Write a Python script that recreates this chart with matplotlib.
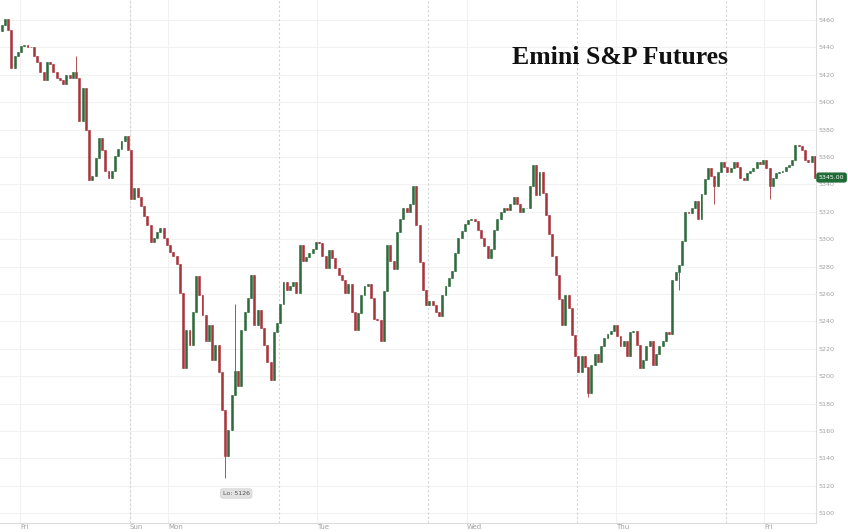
import numpy as np
import matplotlib.pyplot as plt

# 30-minute closes, one list per session
fri_closes = [5456, 5461, 5453, 5425, 5434, 5437, 5441, 5442, 5440, 5440,
              5434, 5429, 5422, 5416, 5429, 5428, 5422, 5418, 5416, 5413,
              5420, 5418, 5422, 5418, 5386, 5410, 5380, 5343, 5346, 5359,
              5374, 5365, 5350, 5345, 5350, 5361, 5366, 5372, 5375, 5365]
mon_closes = [5329, 5337, 5331, 5324, 5317, 5310, 5298, 5301, 5305, 5308,
              5301, 5296, 5291, 5288, 5282, 5261, 5206, 5234, 5223, 5247,
              5273, 5259, 5245, 5226, 5237, 5212, 5223, 5203, 5175, 5142,
              5161, 5186, 5204, 5193, 5234, 5247, 5257, 5274, 5237, 5248,
              5235, 5223, 5210, 5197, 5232, 5239]
tue_closes = [5253, 5269, 5263, 5266, 5269, 5261, 5296, 5284, 5287, 5290,
              5293, 5298, 5297, 5288, 5279, 5292, 5286, 5279, 5274, 5270,
              5261, 5267, 5247, 5234, 5246, 5259, 5266, 5267, 5257, 5242,
              5241, 5226, 5262, 5296, 5284, 5278, 5305, 5315, 5323, 5320,
              5326, 5339, 5310, 5283, 5263, 5252]
wed_closes = [5255, 5252, 5247, 5244, 5259, 5266, 5272, 5277, 5290, 5301,
              5306, 5311, 5314, 5315, 5313, 5307, 5301, 5295, 5286, 5293,
              5307, 5315, 5320, 5323, 5321, 5326, 5331, 5326, 5320, 5323,
              5323, 5339, 5354, 5332, 5349, 5334, 5318, 5304, 5288, 5274,
              5256, 5237, 5259, 5250, 5230, 5215]
thu_closes = [5203, 5215, 5207, 5188, 5208, 5216, 5210, 5222, 5228, 5231,
              5233, 5237, 5229, 5222, 5226, 5215, 5232, 5233, 5223, 5206,
              5212, 5222, 5226, 5208, 5216, 5222, 5226, 5232, 5231, 5270,
              5276, 5281, 5299, 5320, 5319, 5323, 5328, 5315, 5333, 5344,
              5352, 5346, 5339, 5349, 5356, 5353]
fri2_closes = [5349, 5352, 5356, 5353, 5345, 5343, 5348, 5350, 5352, 5356,
               5355, 5358, 5352, 5339, 5345, 5348, 5349, 5350, 5353, 5354,
               5358, 5369, 5368, 5365, 5358, 5356, 5361, 5345]
first_open = 5452

# long wicks that stick out of the bodies
wick_bars = [23, 69, 72, 181, 209, 220, 237]
wick_highs = [5434, None, 5253, None, None, None, None]
wick_lows = [None, 5126, None, 5185, 5263, 5326, 5329]

day_labels = ['Fri', 'Sun', 'Mon', 'Tue', 'Wed', 'Thu', 'Fri']
day_pos = [5.7, 39.6, 51.4, 97.3, 143.6, 189.6, 235.3]
session_breaks = [39.5, 85.5, 131.5, 177.5, 223.5]
yticks = list(range(5100, 5461, 20))

closes = np.array(fri_closes + mon_closes + tue_closes + wed_closes + thu_closes + fri2_closes, dtype=float)
opens = np.concatenate([[first_open], closes[:-1]])
highs = np.maximum(opens, closes)
lows = np.minimum(opens, closes)
for i, h, l in zip(wick_bars, wick_highs, wick_lows):
    if h is not None:
        highs[i] = h
    if l is not None:
        lows[i] = l

x = np.arange(len(closes))
cols = np.where(closes >= opens, '#2f6b3c', '#a8353c')

fig = plt.figure(figsize=(8.48, 5.32), dpi=100)
ax = fig.add_axes([0, 0.0169, 0.9623, 0.9831])

for yv in yticks:
    ax.axhline(yv, color='#f1f1f1', lw=0.8, zorder=0)
for p in day_pos:
    ax.axvline(p, color='#f1f1f1', lw=0.8, zorder=0)
for s in session_breaks:
    ax.axvline(s, color='#d4d4d4', lw=0.8, ls=(0, (2, 2)), zorder=0)

ax.vlines(x, lows, highs, color=cols, lw=0.6, zorder=2)
ax.bar(x, np.abs(closes - opens), bottom=np.minimum(opens, closes), width=0.6,
       color=cols, edgecolor=cols, linewidth=0.4, zorder=3)

ax.set_xlim(-0.49, 251.35)
ax.set_ylim(5092.8, 5474.6)

ax.yaxis.tick_right()
ax.set_yticks(yticks)
ax.set_yticklabels([str(v) for v in yticks])
ax.tick_params(axis='y', labelsize=4.6, colors='#a0a0a0', length=0, pad=2)
ax.set_xticks(day_pos)
ax.set_xticklabels(day_labels, ha='left')
ax.tick_params(axis='x', labelsize=5, colors='#a0a0a0', length=0, pad=0.5)
for sp in ['top', 'left']:
    ax.spines[sp].set_visible(False)
for sp in ['right', 'bottom']:
    ax.spines[sp].set_color('#dcdcdc')
    ax.spines[sp].set_linewidth(0.8)

lo_i = int(np.argmin(lows))
ax.annotate(f'Lo: {lows[lo_i]:.0f}', xy=(lo_i, lows[lo_i]), xytext=(8, -11.5),
            textcoords='offset points', ha='center', va='center', fontsize=4.5,
            color='#555555',
            bbox=dict(boxstyle='round,pad=0.35', fc='#e2e2e2', ec='#cfcfcf', lw=0.5))

ax.annotate(f'{closes[-1]:.2f}', xy=(1.0, closes[-1]), xycoords=('axes fraction', 'data'),
            xytext=(2, 0), textcoords='offset points', ha='left', va='center',
            fontsize=4.5, color='white', annotation_clip=False,
            bbox=dict(boxstyle='round,pad=0.3', fc='#1f6b35', ec='#1f6b35'))

fig.text(620 / 848, 1 - 57 / 532, 'Emini S&P Futures', ha='center', va='center',
         fontsize=18.5, fontweight='bold', family='Liberation Serif', color='#111111')

fig.savefig('out.png', dpi=100)
